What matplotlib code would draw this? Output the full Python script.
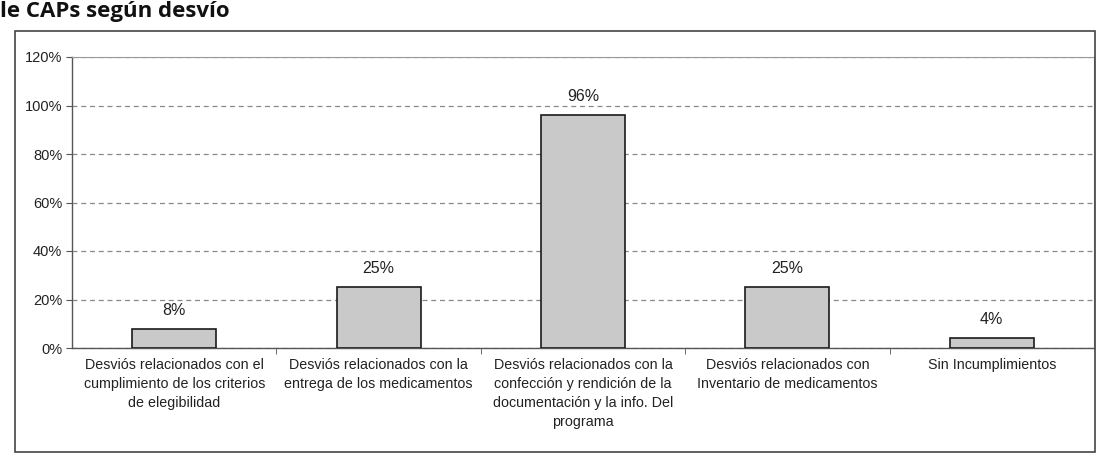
import matplotlib
matplotlib.use("Agg")
import matplotlib.pyplot as plt
from matplotlib.patches import Rectangle

categories = [
    "Desviós relacionados con el\ncumplimiento de los criterios\nde elegibilidad",
    "Desviós relacionados con la\nentrega de los medicamentos",
    "Desviós relacionados con la\nconfección y rendición de la\ndocumentación y la info. Del\nprograma",
    "Desviós relacionados con\nInventario de medicamentos",
    "Sin Incumplimientos",
]
values = [8, 25, 96, 25, 4]
yticks = [0, 20, 40, 60, 80, 100, 120]
title_text = "le CAPs según desvío"

plt.rcParams['font.family'] = ['Liberation Sans', 'DejaVu Sans']

fig = plt.figure(figsize=(11.02, 4.58), dpi=100)
ax = fig.add_axes([72/1102, 1-348/458, (1094-72)/1102, (348-57)/458])

x = list(range(len(values)))
ax.bar(x, values, width=0.41, color='#c9c9c9', edgecolor='#1a1a1a', linewidth=1.2, zorder=3)
for xi, v in zip(x, values):
    ax.text(xi, v + 4.5, f"{v}%", ha='center', va='bottom', fontsize=11.5, color='#222222')

ax.set_xlim(-0.5, len(values) - 0.5)
ax.set_ylim(0, 120)
ax.set_yticks(yticks)
ax.set_yticklabels([f"{t}%" for t in yticks], fontsize=10.5, color='#222222')
ax.set_xticks(x)
ax.set_xticklabels(categories, fontsize=10.3, color='#222222', linespacing=1.45, va='top')
ax.tick_params(axis='x', length=0, pad=7)
ax.set_xticks([i + 0.5 for i in range(len(values) - 1)], minor=True)
ax.tick_params(axis='x', which='minor', length=4, direction='out', color='#555555')
ax.tick_params(axis='y', length=4, direction='out', color='#555555', pad=3)

ax.yaxis.grid(True, linestyle=(0, (4, 3)), color='#888888', linewidth=0.9, zorder=0)
for s in ['left', 'bottom']:
    ax.spines[s].set_color('#555555')
    ax.spines[s].set_linewidth(1.0)
ax.spines['right'].set_color('#999999')
ax.spines['right'].set_linewidth(0.8)
ax.spines['top'].set_color('#999999')
ax.spines['top'].set_linewidth(0.8)

# outer chart border
fig.patches.append(Rectangle((15/1102, 1-452/458), (1095-15)/1102, (452-31)/458,
                             transform=fig.transFigure, fill=False,
                             edgecolor='#444444', linewidth=1.2))

fig.text(0.0, 1 - 1/458, title_text, ha='left', va='top', fontsize=16,
         fontweight='bold', family=['Open Sans', 'DejaVu Sans'], color='#111111')

fig.savefig("out.png", dpi=100)
